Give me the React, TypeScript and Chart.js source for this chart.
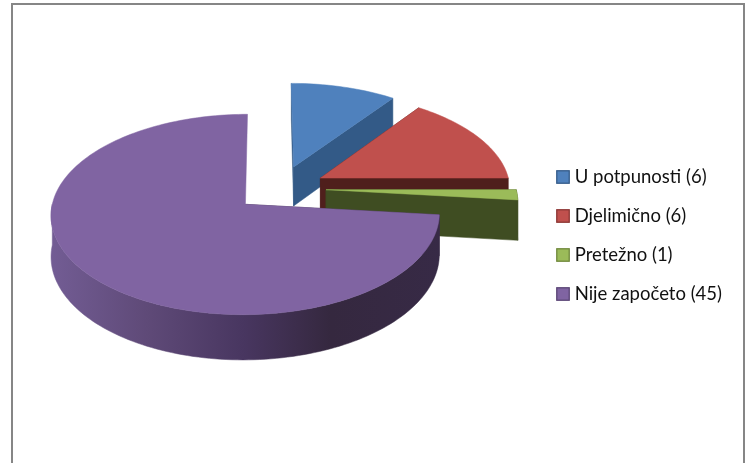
import React, { useEffect, useRef } from "react";
import { Chart, registerables } from "chart.js";

Chart.register(...registerables);

// Legend text as printed in the picture.
const categories = ["U potpunosti (6)", "Djelimično (6)", "Pretežno (1)", "Nije započeto (45)"];
// Slice sizes as drawn in the picture (36°, 54°, 6°, 264°): the drawn angles differ from the printed counts.
const sliceValues = [6, 9, 1, 44];
const topColors = ["#4f81bd", "#c0504d", "#9bbb59", "#8064a2"];
const edgeColors = ["#385d8a", "#8c3836", "#71893f", "#5c4776"];
const wallColors = ["#335a87", "#4f1f1c", "#3f4d22", "#3a2b47"];

const plane = { shiftX: 10, shiftY: -47, squash: 0.505, perspective: 0.1, depth: 40, vanishX: -12 };

const legendSwatch = (fill: string, edge: string) => {
  const c = document.createElement("canvas");
  c.width = 14;
  c.height = 14;
  const g = c.getContext("2d") as CanvasRenderingContext2D;
  g.fillStyle = fill;
  g.fillRect(0.5, 0.5, 13, 13);
  g.strokeStyle = edge;
  g.lineWidth = 1.3;
  g.strokeRect(0.8, 0.8, 12.4, 12.4);
  return c;
};

const pie3d = {
  id: "pie3d",
  beforeDraw(chart: any) {
    const { ctx, height } = chart;
    ctx.save();
    ctx.strokeStyle = "#868686";
    ctx.lineWidth = 2;
    ctx.beginPath();
    ctx.moveTo(12, height);
    ctx.lineTo(12, 4);
    ctx.lineTo(744, 4);
    ctx.lineTo(744, height);
    ctx.stroke();
    ctx.restore();
  },
  beforeDatasetsDraw(chart: any) {
    const { ctx } = chart;
    const arcs = chart.getDatasetMeta(0).data;
    const fillPoly = (pts: number[][], fill: any) => {
      ctx.fillStyle = fill;
      ctx.strokeStyle = fill;
      ctx.lineWidth = 0.5;
      ctx.beginPath();
      pts.forEach((p, i) => (i ? ctx.lineTo(p[0], p[1]) : ctx.moveTo(p[0], p[1])));
      ctx.closePath();
      ctx.fill();
      ctx.stroke();
    };
    arcs.forEach((arc: any, i: number) => {
      const { x, y, startAngle, endAngle, outerRadius } = arc.getProps(["x", "y", "startAngle", "endAngle", "outerRadius"], true);
      const R = outerRadius;
      const cx = x + plane.shiftX;
      const cy = y + plane.shiftY;
      const mid = (startAngle + endAngle) / 2;
      const e = (arc.options.offset || 0) / 4;
      const ox = Math.cos(mid) * e;
      const oy = Math.sin(mid) * e;
      const pt = (wx: number, wy: number, z: number) => {
        const w = 1 - (plane.perspective * wy) / R;
        return [cx + plane.vanishX + (wx - plane.vanishX) / w, cy + (plane.squash * wy + z) / w];
      };
      const n = Math.max(4, Math.ceil(((endAngle - startAngle) * 180) / Math.PI / 1.5));
      const angles: number[] = [];
      for (let k = 0; k <= n; k++) angles.push(startAngle + ((endAngle - startAngle) * k) / n);
      const rim = (a: number, z: number) => pt(ox + Math.cos(a) * R, oy + Math.sin(a) * R, z);
      const apex = (z: number) => pt(ox, oy, z);

      let wall: any = wallColors[i];
      if (i === arcs.length - 1) {
        const g = ctx.createLinearGradient(48, 0, 440, 0);
        g.addColorStop(0, "#735d95");
        g.addColorStop(0.25, "#5f4a78");
        g.addColorStop(0.5, "#483660");
        g.addColorStop(0.72, "#35283f");
        g.addColorStop(1, "#372a46");
        wall = g;
      }
      // Cut faces, then the visible front of the outer rim, then the top surface.
      [startAngle, endAngle].forEach((a: number, side: number) => {
        if (i === arcs.length - 1 && side === 1) return;
        fillPoly([apex(0), rim(a, 0), rim(a, plane.depth), apex(plane.depth)], wallColors[i]);
      });
      const front = angles.filter((a) => Math.sin(a) > -0.02);
      if (front.length > 1) {
        fillPoly(
          [...front.map((a) => rim(a, 0)), ...front.slice().reverse().map((a) => rim(a, plane.depth))],
          wall
        );
      }
      fillPoly([apex(0), ...angles.map((a) => rim(a, 0))], arc.options.backgroundColor);
    });
    return false;
  },
};

export default function App() {
  const ref = useRef<HTMLCanvasElement>(null);
  useEffect(() => {
    document.body.style.margin = "0";
    const chart = new Chart(ref.current as HTMLCanvasElement, {
      type: "pie",
      data: {
        labels: categories,
        datasets: [
          {
            data: sliceValues,
            backgroundColor: topColors,
            borderColor: edgeColors,
            borderWidth: 1.3,
            offset: 184,
            hoverOffset: 0,
            radius: 190,
          } as any,
        ],
      },
      options: {
        responsive: false,
        animation: false,
        layout: { padding: { top: 8, right: 16, left: 0, bottom: 0 } },
        plugins: {
          tooltip: { enabled: false },
          title: { display: false },
          legend: {
            position: "right",
            labels: {
              usePointStyle: true,
              boxWidth: 5,
              boxHeight: 13,
              padding: 20.5,
              color: "#111111",
              font: { family: "Lato", size: 18.5 },
              generateLabels: (c: any) =>
                (Chart as any).overrides.pie.plugins.legend.labels
                  .generateLabels(c)
                  .map((item: any, i: number) => ({
                    ...item,
                    pointStyle: legendSwatch(topColors[i], edgeColors[i]),
                  })),
            },
          },
        },
      },
      plugins: [pie3d as any],
    });
    return () => chart.destroy();
  }, []);
  return <canvas ref={ref} width={748} height={463} style={{ display: "block" }} />;
}
